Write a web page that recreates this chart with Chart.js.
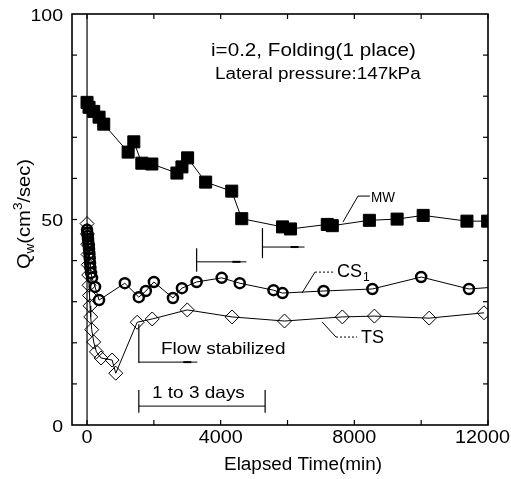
<!DOCTYPE html>
<html>
<head>
<meta charset="utf-8">
<script src="https://cdn.jsdelivr.net/npm/chart.js@4/dist/chart.umd.min.js"></script>
<style>
  html, body { margin: 0; padding: 0; background: #fff; }
  canvas { display: block; }
</style>
</head>
<body>
<canvas id="flowChart" width="511" height="479"></canvas>
<script>
  // MW (filled squares)
  const mwTime = [0, 60, 200, 360, 500, 1230, 1400, 1640, 1940, 2690, 2840, 3010, 3550, 4330, 4630, 5850, 6090, 7190, 7340, 8450, 9280, 10060, 11370, 11990];
  const mwFlow = [78.5, 77.3, 76.3, 74.9, 73.2, 66.4, 68.9, 63.7, 63.5, 61.3, 62.8, 65.0, 59.1, 56.9, 50.2, 48.2, 47.7, 48.8, 48.5, 49.8, 50.1, 51.0, 49.6, 49.6];

  // CS1 (open circles)
  const csTime = [0, 10, 20, 30, 40, 50, 60, 70, 80, 90, 100, 120, 150, 240, 360, 1130, 1550, 1760, 2000, 2570, 2840, 3280, 4030, 4570, 5580, 5850, 7080, 8540, 10000, 11430, 12300];
  const csFlow = [47.5, 46.8, 46.0, 45.2, 44.4, 43.6, 42.8, 41.8, 40.6, 39.4, 38.2, 37.0, 35.8, 33.6, 30.4, 34.5, 31.1, 32.6, 34.8, 30.9, 33.3, 34.8, 35.8, 34.5, 32.8, 32.1, 32.6, 33.1, 36.0, 33.1, 33.6];

  // TS (open diamonds)
  const tsTime = [0, 10, 20, 30, 40, 50, 60, 75, 90, 110, 140, 200, 280, 420, 750, 860, 1500, 1950, 3000, 4340, 5910, 7640, 8600, 10240, 11880];
  const tsFlow = [49.0, 46.5, 44.0, 41.5, 39.0, 36.5, 34.0, 31.5, 29.0, 26.3, 23.2, 20.2, 17.8, 16.3, 15.8, 12.6, 25.0, 25.8, 28.0, 26.3, 25.3, 26.3, 26.5, 26.0, 27.3];

  const xTickLabels = [0, 4000, 8000, 12000];
  const yTickLabels = [0, 50, 100];

  const FONT = '"Liberation Sans", Arial, Helvetica, sans-serif';

  function pts(t, v) {
    return t.map((x, i) => ({ x: x, y: v[i] }));
  }

  // text drawn a little wider than Arial, like the scanned Helvetica
  function txt(ctx, s, x, y, size, align, sx) {
    ctx.save();
    ctx.font = size + 'px ' + FONT;
    ctx.textAlign = 'left';
    ctx.textBaseline = 'alphabetic';
    const w = ctx.measureText(s).width * sx;
    let x0 = align === 'center' ? x - w / 2 : (align === 'right' ? x - w : x);
    if (x0 + w > 510) x0 = 510 - w;
    ctx.translate(x0, y);
    ctx.scale(sx, 1);
    ctx.fillText(s, 0, 0);
    ctx.restore();
    return w;
  }

  function line(ctx, a, b, width, dash) {
    ctx.save();
    ctx.lineWidth = width || 1;
    ctx.setLineDash(dash || []);
    ctx.beginPath();
    ctx.moveTo(a[0], a[1]);
    ctx.lineTo(b[0], b[1]);
    ctx.stroke();
    ctx.restore();
  }

  const decor = {
    id: 'decor',
    afterDraw(chart) {
      const ctx = chart.ctx;
      const xs = chart.scales.x, ys = chart.scales.y;
      const a = chart.chartArea;
      const P = (t, v) => [xs.getPixelForValue(t), ys.getPixelForValue(v)];
      ctx.save();
      ctx.strokeStyle = '#000';
      ctx.fillStyle = '#000';

      // frame
      ctx.lineWidth = 1.6;
      ctx.strokeRect(a.left, a.top, a.right - a.left, a.bottom - a.top);

      // x = 0 line
      line(ctx, P(0, 0), P(0, 100), 1.2);

      // inward ticks
      for (let t = 0; t <= 12000; t += 2000) {
        const px = xs.getPixelForValue(t);
        line(ctx, [px, a.bottom], [px, a.bottom - 5], 1.2);
        line(ctx, [px, a.top], [px, a.top + 5], 1.2);
      }
      for (let v = 10; v < 100; v += 10) {
        const py = ys.getPixelForValue(v);
        line(ctx, [a.left, py], [a.left + 5, py], 1.2);
        line(ctx, [a.right, py], [a.right - 5, py], 1.2);
      }

      // tick labels
      xTickLabels.forEach(t => {
        txt(ctx, String(t), xs.getPixelForValue(t), a.bottom + 18, 18, 'center', 1.1);
      });
      yTickLabels.forEach(v => {
        txt(ctx, String(v), a.left - 9, ys.getPixelForValue(v) + 6.5, 17, 'right', 1.15);
      });

      // axis titles
      txt(ctx, 'Elapsed Time(min)', 303, 470, 18, 'center', 1.05);

      ctx.save();
      ctx.translate(30, 214);
      ctx.rotate(-Math.PI / 2);
      const parts = [['Q', 18, 0], ['w', 12, 4], ['(cm', 18, 0], ['3', 12, -8], ['/sec)', 18, 0]];
      let total = 0;
      parts.forEach(p => { ctx.font = p[1] + 'px ' + FONT; total += ctx.measureText(p[0]).width * 1.12; });
      let cx = -total / 2;
      parts.forEach(p => { cx += txt(ctx, p[0], cx, p[2], p[1], 'left', 1.12); });
      ctx.restore();

      // header text
      let q = P(3710, 89.8);
      txt(ctx, 'i=0.2, Folding(1 place)', q[0], q[1], 17.5, 'left', 1.18);
      q = P(3830, 84.2);
      txt(ctx, 'Lateral pressure:147kPa', q[0], q[1], 16, 'left', 1.18);

      // series labels with leaders
      q = P(8498, 54.3);
      txt(ctx, 'MW', q[0], q[1], 15, 'left', 0.9);
      ctx.beginPath();
      ctx.lineWidth = 1;
      ctx.moveTo(...P(7660, 49.4)); ctx.lineTo(...P(8109, 55.7)); ctx.lineTo(...P(8468, 55.7));
      ctx.stroke();

      q = P(7480, 36);
      const csw = txt(ctx, 'CS', q[0], q[1], 18, 'left', 1.0);
      txt(ctx, '1', q[0] + csw + 1, q[1] + 4, 12, 'left', 1.0);
      ctx.beginPath();
      ctx.moveTo(...P(6433, 32.1)); ctx.lineTo(...P(6822, 37.2));
      ctx.stroke();
      line(ctx, P(6822, 37.2), P(7361, 37.2), 1, [2, 2]);

      q = P(8199, 20);
      txt(ctx, 'TS', q[0], q[1], 18, 'left', 1.0);
      ctx.beginPath();
      ctx.moveTo(...P(7032, 25.1)); ctx.lineTo(...P(7451, 21.4));
      ctx.stroke();
      line(ctx, P(7451, 21.4), P(8079, 21.4), 1, [2, 2]);

      // flow stabilized markers
      const marks = [
        [1550, 24.5, 15.1, 15.3, 3300],
        [3280, 43.0, 37.3, 39.7, 4770],
        [5250, 47.9, 40.6, 43.3, 6510]
      ];
      marks.forEach(m => {
        line(ctx, P(m[0], m[1]), P(m[0], m[2]), 1.2);
        line(ctx, P(m[0], m[3]), P(m[4], m[3]), 1);
        const e = P(m[4], m[3]);
        line(ctx, [e[0] - 14, e[1]], [e[0] - 6, e[1]], 2);
      });
      q = P(2214, 17.3);
      txt(ctx, 'Flow stabilized', q[0], q[1], 16.5, 'left', 1.15);

      // 1 to 3 days bracket
      line(ctx, P(1550, 4.6), P(5330, 4.6), 1);
      line(ctx, P(1550, 8.5), P(1550, 3.0), 1.2);
      line(ctx, P(5330, 8.5), P(5330, 3.0), 1.2);
      q = P(1945, 6.6);
      txt(ctx, '1 to 3 days', q[0], q[1], 16.5, 'left', 1.15);

      ctx.restore();
    }
  };

  const ctx1 = document.getElementById('flowChart').getContext('2d');

  const myChart = new Chart(ctx1, {
    type: 'scatter',
    data: {
      datasets: [{
        label: 'MW',
        data: pts(mwTime, mwFlow),
        showLine: true,
        borderColor: '#000',
        borderWidth: 1,
        pointStyle: 'rect',
        pointRadius: 8.5,
        pointBackgroundColor: '#000',
        pointBorderColor: '#000',
        pointBorderWidth: 1
      }, {
        label: 'CS1',
        data: pts(csTime, csFlow),
        showLine: true,
        borderColor: '#000',
        borderWidth: 1,
        pointStyle: 'circle',
        pointRadius: 5,
        pointBackgroundColor: 'rgba(0,0,0,0)',
        pointBorderColor: '#000',
        pointBorderWidth: 2.5
      }, {
        label: 'TS',
        data: pts(tsTime, tsFlow),
        showLine: true,
        borderColor: '#000',
        borderWidth: 1,
        pointStyle: 'rectRot',
        pointRadius: 7,
        pointBackgroundColor: 'rgba(0,0,0,0)',
        pointBorderColor: '#000',
        pointBorderWidth: 1
      }]
    },
    options: {
      responsive: false,
      animation: false,
      devicePixelRatio: 1,
      layout: { padding: { left: 72, top: 14, right: 23, bottom: 54 } },
      plugins: {
        legend: { display: false },
        tooltip: { enabled: false }
      },
      scales: {
        x: { type: 'linear', min: -450, max: 12000, display: false },
        y: { type: 'linear', min: 0, max: 100, display: false }
      }
    },
    plugins: [decor]
  });
</script>
</body>
</html>
